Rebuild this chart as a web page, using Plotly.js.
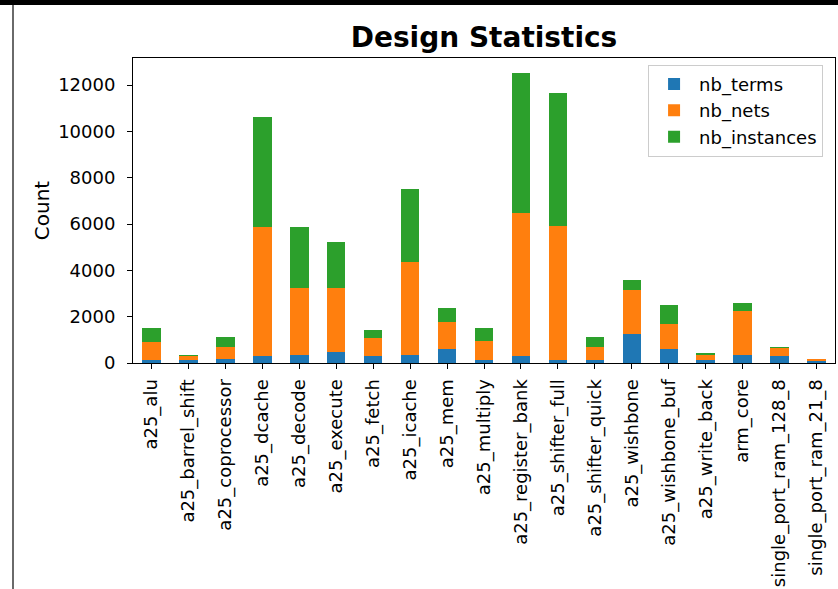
<!DOCTYPE html>
<html>
<head>
<meta charset="utf-8">
<script src="https://cdn.plot.ly/plotly-3.0.1.min.js"></script>
<style>
  html, body { margin: 0; padding: 0; background: #fff; }
  #wrap { position: relative; width: 838px; height: 589px; overflow: hidden; }
  #chart { position: absolute; left: 0; top: 0; width: 838px; height: 589px; }
  #topband { position: absolute; left: 0; top: 0; width: 838px; height: 5px; background: #000; z-index: 5; }
  #leftline { position: absolute; left: 12px; top: 5px; width: 2px; height: 584px; background: #6a6a6a; z-index: 5; }
</style>
</head>
<body>
<div id="wrap">
  <div id="chart"></div>
  <div id="topband"></div>
  <div id="leftline"></div>
</div>
<script>
const categories = [
  "a25_alu", "a25_barrel_shift", "a25_coprocessor", "a25_dcache", "a25_decode",
  "a25_execute", "a25_fetch", "a25_icache", "a25_mem", "a25_multiply",
  "a25_register_bank", "a25_shifter_full", "a25_shifter_quick", "a25_wishbone",
  "a25_wishbone_buf", "a25_write_back", "arm_core", "single_port_ram_128_8",
  "single_port_ram_21_8"
];
const nb_terms = [130, 110, 170, 290, 345, 460, 287, 345, 625, 125, 287, 125, 125, 1245, 620, 135, 340, 295, 70];
const nb_nets = [775, 185, 515, 5590, 2875, 2760, 790, 4010, 1128, 845, 6208, 5810, 555, 1916, 1070, 203, 1923, 345, 102];
const nb_instances = [618, 50, 450, 4725, 2657, 2025, 330, 3161, 618, 553, 6050, 5705, 455, 403, 796, 107, 338, 35, 8];
const seriesNames = ["nb_terms", "nb_nets", "nb_instances"];
const seriesColors = ["#1f77b4", "#ff7f0e", "#2ca02c"];
const seriesValues = [nb_terms, nb_nets, nb_instances];

const totals = categories.map((c, i) => nb_terms[i] + nb_nets[i] + nb_instances[i]);
const yMax = Math.max(...totals) * 1.05;

const traces = seriesValues.map((vals, k) => ({
  type: "bar",
  name: seriesNames[k],
  x: categories,
  y: vals,
  marker: { color: seriesColors[k], line: { width: 0 } },
  hoverinfo: "x+y+name"
}));

const FONT = "DejaVu Sans, sans-serif";

const layout = {
  width: 838,
  height: 589,
  barmode: "stack",
  bargap: 0.5,
  paper_bgcolor: "#ffffff",
  plot_bgcolor: "#ffffff",
  margin: { l: 133, r: 3, t: 58, b: 226, pad: 0 },
  font: { family: FONT, size: 18, color: "#000" },
  title: {
    text: "<b>Design Statistics</b>",
    font: { family: FONT, size: 28, color: "#000" },
    xref: "paper", x: 0.5, xanchor: "center",
    yref: "container", y: 1 - 37 / 589, yanchor: "middle"
  },
  xaxis: {
    type: "category",
    range: [-0.5, categories.length - 0.5],
    tickangle: -90,
    ticks: "outside", ticklen: 5, tickwidth: 1, tickcolor: "#000",
    ticklabelstandoff: 3,
    showline: true, linecolor: "#000", linewidth: 1, mirror: true,
    showgrid: false, zeroline: false,
    tickfont: { family: FONT, size: 18, color: "#000" },
    automargin: false
  },
  yaxis: {
    range: [0, yMax],
    tick0: 0, dtick: 2000,
    ticks: "outside", ticklen: 5, tickwidth: 1, tickcolor: "#000",
    ticklabelstandoff: 8,
    showline: true, linecolor: "#000", linewidth: 1, mirror: true,
    showgrid: false, zeroline: false,
    tickformat: "d",
    tickfont: { family: FONT, size: 18, color: "#000" },
    title: { text: "Count", font: { family: FONT, size: 20, color: "#000" }, standoff: 3 },
    automargin: false
  },
  legend: {
    x: 0.983, xanchor: "right", xref: "paper",
    y: 0.978, yanchor: "top", yref: "paper",
    bgcolor: "rgba(255,255,255,0.8)",
    bordercolor: "#cccccc", borderwidth: 1,
    font: { family: FONT, size: 18, color: "#000" },
    traceorder: "normal",
    itemwidth: 40
  },
  showlegend: true
};

Plotly.newPlot("chart", traces, layout, { displayModeBar: false, staticPlot: true });
</script>
</body>
</html>
